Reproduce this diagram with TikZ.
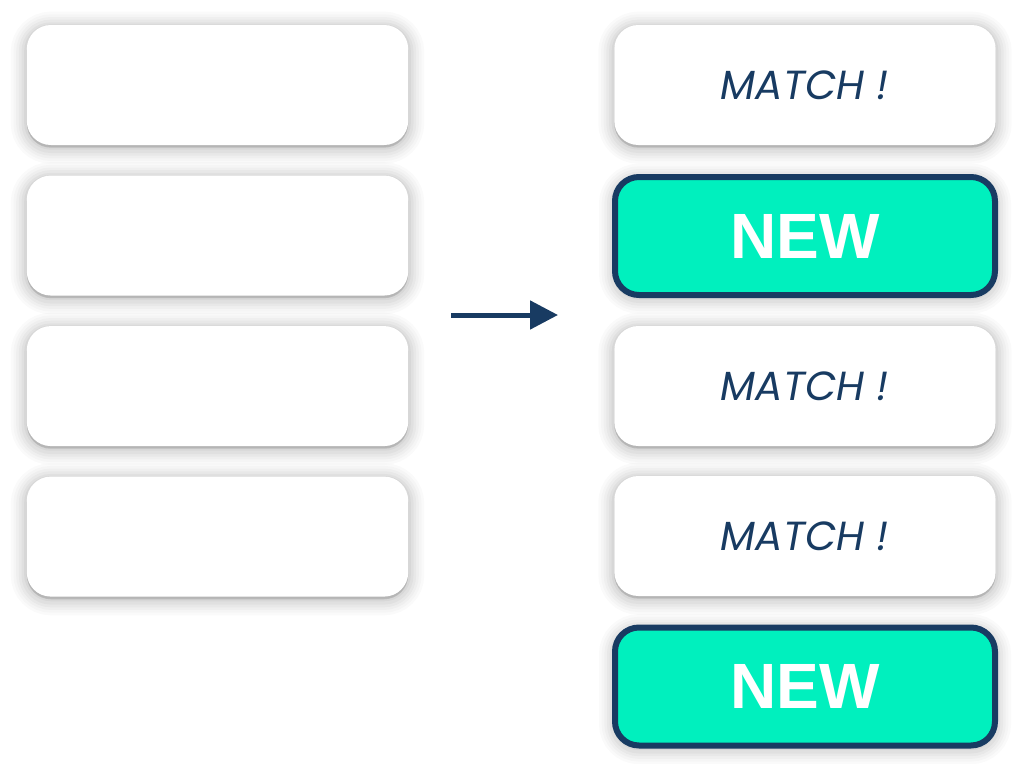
\documentclass[tikz,border=0pt]{standalone}
\usepackage{fontspec}
\setmainfont{Liberation Sans}
\newfontfamily\matchfont{Poppins}
\usetikzlibrary{positioning,arrows.meta}

\definecolor{navy}{HTML}{183B62}
\definecolor{mint}{HTML}{00F0BE}

\tikzset{
  card/.style={rounded corners=18pt, minimum width=286pt, minimum height=90pt, inner sep=0pt, fill=white,
    preaction={draw=black, fill=black, opacity=0.018, line width=24pt, transform canvas={yshift=-2pt}},
    preaction={draw=black, fill=black, opacity=0.02, line width=20pt, transform canvas={yshift=-2pt}},
    preaction={draw=black, fill=black, opacity=0.025, line width=16pt, transform canvas={yshift=-2pt}},
    preaction={draw=black, fill=black, opacity=0.03, line width=12pt, transform canvas={yshift=-2pt}},
    preaction={draw=black, fill=black, opacity=0.035, line width=8pt, transform canvas={yshift=-2pt}},
    preaction={draw=black, fill=black, opacity=0.04, line width=4pt, transform canvas={yshift=-1.5pt}}},
  newcard/.style={card, fill=mint, draw=navy, line width=4.5pt, minimum width=285pt, minimum height=88.5pt,
    text=white, font=\bfseries\fontsize{48}{48}\selectfont},
  matchtxt/.style={text=navy, font=\matchfont\itshape\fontsize{30.5}{30.5}\selectfont}
}

\begin{document}
\begin{tikzpicture}[x=0.75pt, y=-0.75pt, node distance=22.5pt]
    \useasboundingbox (0,0) rectangle (1022,764);

    % left column
    \node[card] (l1) at (217.5,85) {};
    \node[card, below=of l1] (l2) {};
    \node[card, below=of l2] (l3) {};
    \node[card, below=of l3] (l4) {};

    % right column
    \node[card, matchtxt] (r1) at (805,85) {MATCH !};
    \node[newcard] (r2) at (805,236) {NEW};
    \node[card, matchtxt] (r3) at (805,386) {MATCH !};
    \node[card, matchtxt] (r4) at (805,536) {MATCH !};
    \node[newcard] (r5) at (805,686.5) {NEW};

    \coordinate (arrs) at (451,315);
    \coordinate (arre) at (558,315);
    \draw[navy, line width=3.75pt, -{Triangle[length=21pt, width=21pt]}] (arrs) -- (arre);

\end{tikzpicture}
\end{document}
